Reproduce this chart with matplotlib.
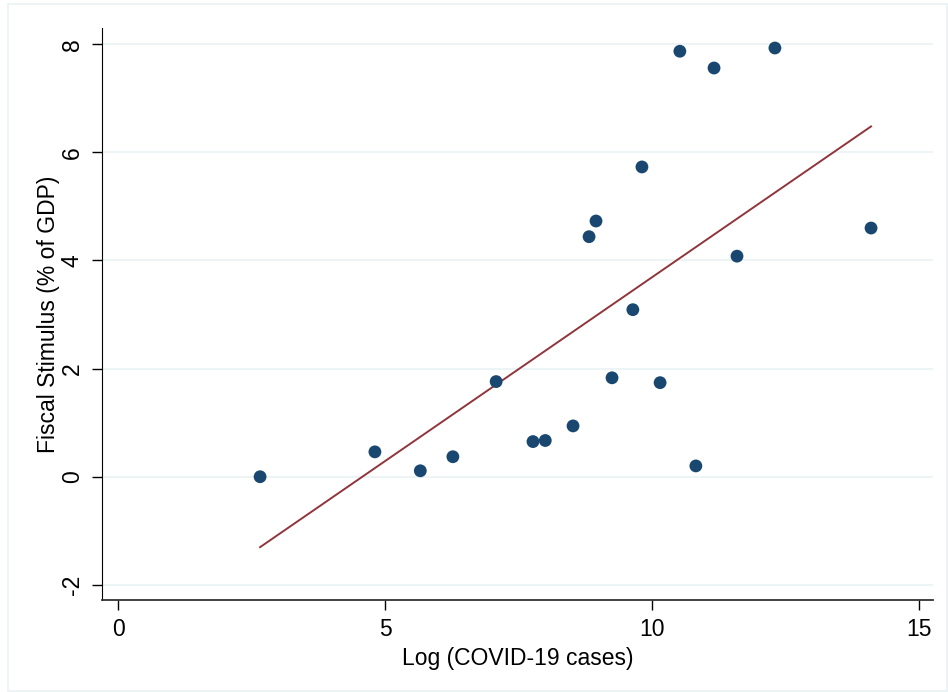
import matplotlib.pyplot as plt
import numpy as np
from matplotlib.patches import Rectangle

plt.rcParams['font.family'] = ['Liberation Sans', 'DejaVu Sans']

# log of covid cases and fiscal stimulus (% of GDP)
log_cases = np.array([2.66, 4.81, 5.66, 6.27, 7.08, 7.77, 8.00, 8.52, 8.82, 8.95,
                      9.25, 9.64, 9.81, 10.15, 10.52, 10.82, 11.16, 11.59, 12.30, 14.10])
stimulus = np.array([0.00, 0.46, 0.11, 0.37, 1.76, 0.65, 0.67, 0.94, 4.44, 4.73,
                     1.83, 3.09, 5.73, 1.74, 7.87, 0.20, 7.56, 4.08, 7.93, 4.60])

xticks = [0, 5, 10, 15]
yticks = [-2, 0, 2, 4, 6, 8]

navy = '#1a476f'
maroon = '#90353b'
grid = '#eaf2f3'

fig = plt.figure(figsize=(9.48, 6.92), dpi=100)
fig.patches.append(Rectangle((8 / 948, 1 / 692), 939 / 948, 687 / 692,
                             transform=fig.transFigure, fill=False,
                             edgecolor=grid, linewidth=1.2))
ax = fig.add_axes([102 / 948, 1 - 600 / 692, 831 / 948, 572 / 692])

# linear fit
b, a = np.polyfit(log_cases, stimulus, 1)
xf = np.array([log_cases.min(), log_cases.max()])
ax.plot(xf, a + b * xf, color=maroon, lw=1.4, zorder=2)

ax.scatter(log_cases, stimulus, s=85, color=navy, edgecolors='none', zorder=3)

ax.set_xlim(-0.30, 15.26)
ax.set_ylim(-2.28, 8.30)
ax.set_xticks(xticks)
ax.set_yticks(yticks)
ax.set_yticklabels([str(v) for v in yticks], rotation=90, va='center')
ax.grid(axis='y', color=grid, lw=1.2)
ax.set_axisbelow(True)

for s in ['top', 'right']:
    ax.spines[s].set_visible(False)
ax.spines['left'].set_color('black')
ax.spines['bottom'].set_color('#333333')
ax.spines['bottom'].set_linewidth(1.3)
ax.tick_params(length=7, width=1, labelsize=16.5, pad=6)

ax.set_xlabel('Log (COVID-19 cases)', fontsize=16.5, labelpad=4)
ax.set_ylabel('Fiscal Stimulus (% of GDP)', fontsize=16.5, labelpad=1)

fig.savefig('out.png', dpi=100)
